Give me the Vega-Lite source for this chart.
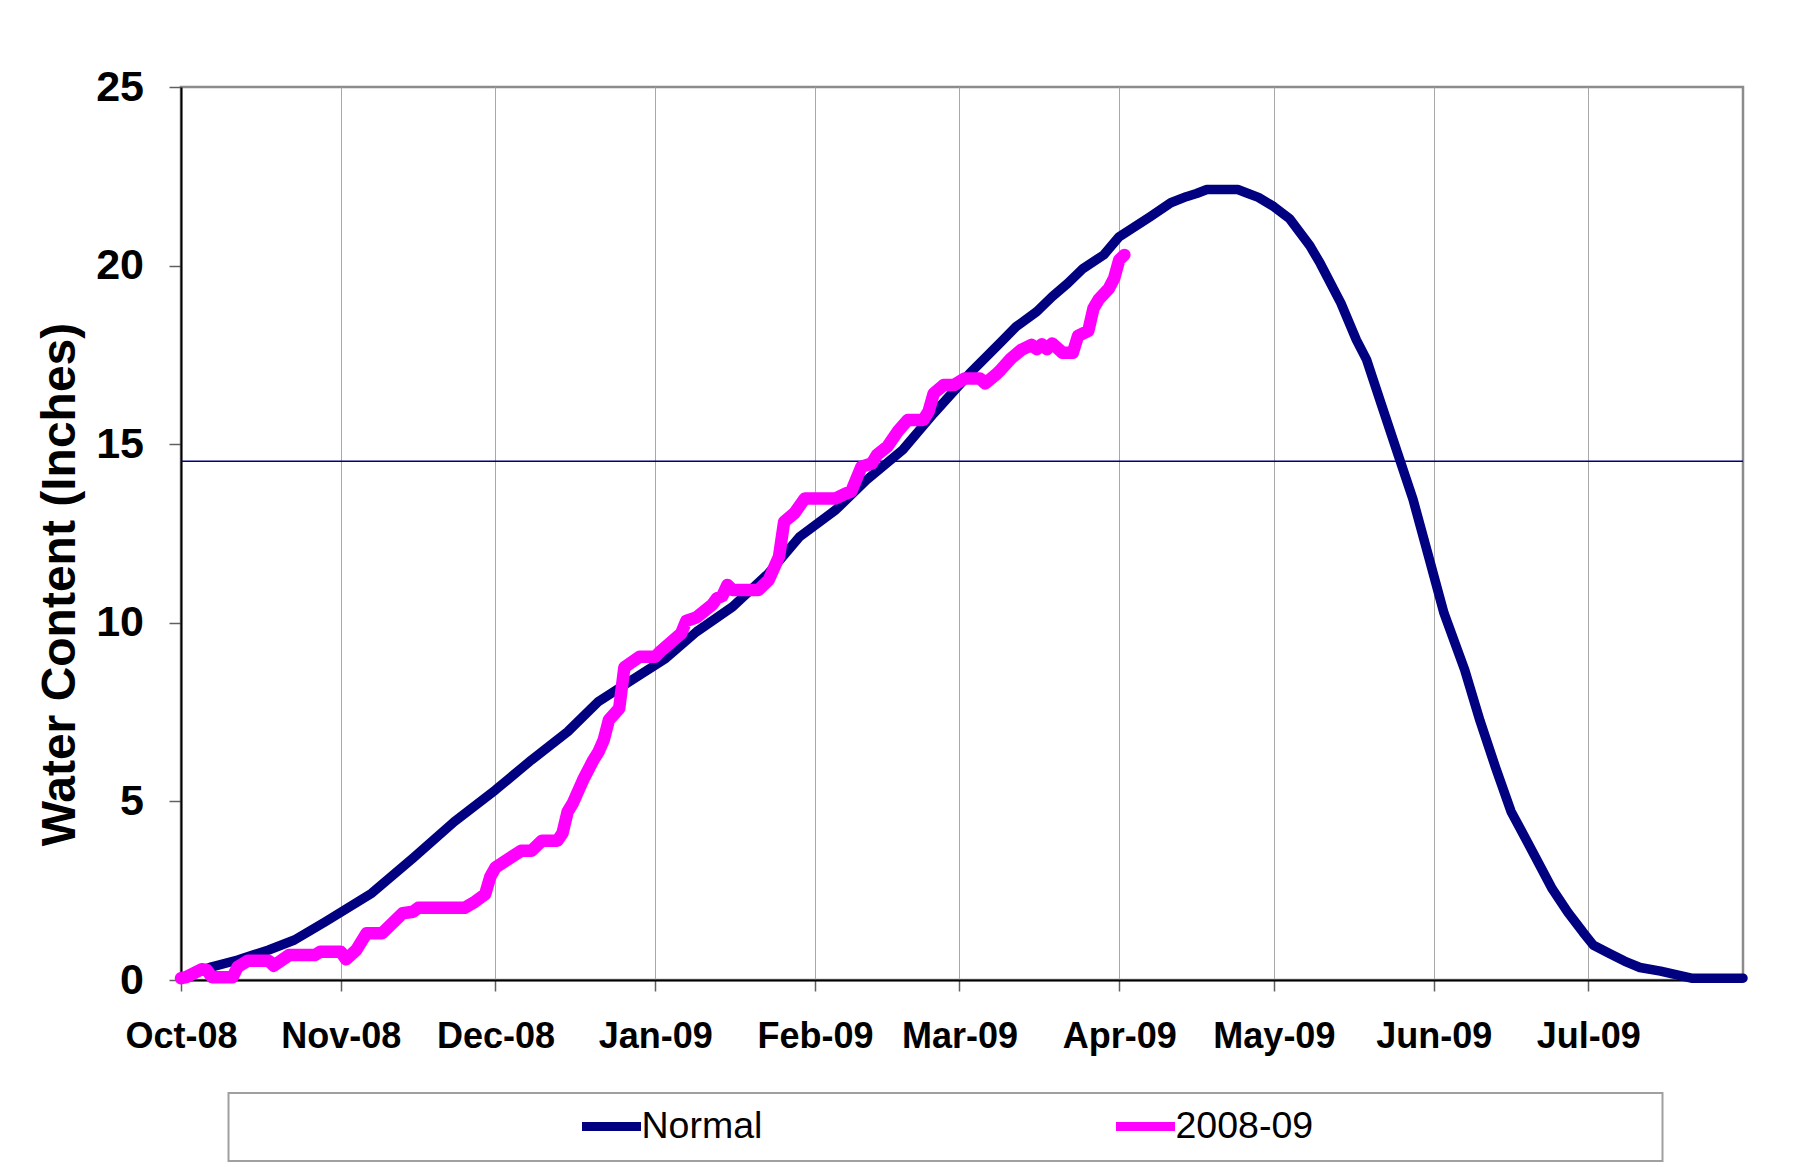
{
  "$schema": "https://vega.github.io/schema/vega-lite/v6.json",
  "width": 1562,
  "height": 893,
  "autosize": {"type": "none"},
  "padding": {"left": 181, "top": 87, "right": 75, "bottom": 187},
  "background": "white",
  "config": {
    "font": "Liberation Sans",
    "view": {"stroke": "#8c8c8c", "strokeWidth": 2.5},
    "legend": {"strokeWidth": 2},
    "axis": {
      "labelColor": "black",
      "titleColor": "black",
      "domainColor": "black",
      "domainWidth": 2,
      "tickColor": "#606060",
      "tickWidth": 1.5,
      "gridColor": "#a8a8a8",
      "gridWidth": 1,
      "labelFontWeight": "bold"
    }
  },
  "datasets": {
    "snow": [
      {"date": "2008-10-01", "series": "Normal", "value": 0.05},
      {"date": "2008-10-07", "series": "Normal", "value": 0.37},
      {"date": "2008-10-12", "series": "Normal", "value": 0.56},
      {"date": "2008-10-18", "series": "Normal", "value": 0.84},
      {"date": "2008-10-23", "series": "Normal", "value": 1.12},
      {"date": "2008-10-29", "series": "Normal", "value": 1.63},
      {"date": "2008-11-07", "series": "Normal", "value": 2.43},
      {"date": "2008-11-15", "series": "Normal", "value": 3.41},
      {"date": "2008-11-23", "series": "Normal", "value": 4.43},
      {"date": "2008-12-01", "series": "Normal", "value": 5.32},
      {"date": "2008-12-08", "series": "Normal", "value": 6.16},
      {"date": "2008-12-15", "series": "Normal", "value": 6.95},
      {"date": "2008-12-21", "series": "Normal", "value": 7.8},
      {"date": "2008-12-28", "series": "Normal", "value": 8.45},
      {"date": "2009-01-03", "series": "Normal", "value": 9.0},
      {"date": "2009-01-09", "series": "Normal", "value": 9.75},
      {"date": "2009-01-16", "series": "Normal", "value": 10.45},
      {"date": "2009-01-23", "series": "Normal", "value": 11.39},
      {"date": "2009-01-29", "series": "Normal", "value": 12.41},
      {"date": "2009-02-05", "series": "Normal", "value": 13.16},
      {"date": "2009-02-11", "series": "Normal", "value": 14.0},
      {"date": "2009-02-18", "series": "Normal", "value": 14.84},
      {"date": "2009-02-24", "series": "Normal", "value": 15.86},
      {"date": "2009-03-03", "series": "Normal", "value": 16.98},
      {"date": "2009-03-09", "series": "Normal", "value": 17.85},
      {"date": "2009-03-12", "series": "Normal", "value": 18.29},
      {"date": "2009-03-16", "series": "Normal", "value": 18.71},
      {"date": "2009-03-19", "series": "Normal", "value": 19.13},
      {"date": "2009-03-22", "series": "Normal", "value": 19.5},
      {"date": "2009-03-25", "series": "Normal", "value": 19.92},
      {"date": "2009-03-29", "series": "Normal", "value": 20.3},
      {"date": "2009-04-01", "series": "Normal", "value": 20.81},
      {"date": "2009-04-04", "series": "Normal", "value": 21.09},
      {"date": "2009-04-07", "series": "Normal", "value": 21.37},
      {"date": "2009-04-11", "series": "Normal", "value": 21.76},
      {"date": "2009-04-14", "series": "Normal", "value": 21.93},
      {"date": "2009-04-16", "series": "Normal", "value": 22.02},
      {"date": "2009-04-18", "series": "Normal", "value": 22.13},
      {"date": "2009-04-24", "series": "Normal", "value": 22.13},
      {"date": "2009-04-26", "series": "Normal", "value": 22.02},
      {"date": "2009-04-28", "series": "Normal", "value": 21.91},
      {"date": "2009-05-01", "series": "Normal", "value": 21.65},
      {"date": "2009-05-04", "series": "Normal", "value": 21.32},
      {"date": "2009-05-08", "series": "Normal", "value": 20.55},
      {"date": "2009-05-10", "series": "Normal", "value": 20.06},
      {"date": "2009-05-14", "series": "Normal", "value": 18.95},
      {"date": "2009-05-17", "series": "Normal", "value": 17.92},
      {"date": "2009-05-19", "series": "Normal", "value": 17.36},
      {"date": "2009-05-22", "series": "Normal", "value": 16.05},
      {"date": "2009-05-25", "series": "Normal", "value": 14.75},
      {"date": "2009-05-28", "series": "Normal", "value": 13.45},
      {"date": "2009-05-31", "series": "Normal", "value": 11.86},
      {"date": "2009-06-03", "series": "Normal", "value": 10.27},
      {"date": "2009-06-07", "series": "Normal", "value": 8.69},
      {"date": "2009-06-10", "series": "Normal", "value": 7.25},
      {"date": "2009-06-13", "series": "Normal", "value": 5.95},
      {"date": "2009-06-16", "series": "Normal", "value": 4.72},
      {"date": "2009-06-20", "series": "Normal", "value": 3.64},
      {"date": "2009-06-24", "series": "Normal", "value": 2.55},
      {"date": "2009-06-27", "series": "Normal", "value": 1.9},
      {"date": "2009-06-30", "series": "Normal", "value": 1.33},
      {"date": "2009-07-02", "series": "Normal", "value": 0.97},
      {"date": "2009-07-05", "series": "Normal", "value": 0.75},
      {"date": "2009-07-08", "series": "Normal", "value": 0.53},
      {"date": "2009-07-11", "series": "Normal", "value": 0.35},
      {"date": "2009-07-15", "series": "Normal", "value": 0.25},
      {"date": "2009-07-18", "series": "Normal", "value": 0.15},
      {"date": "2009-07-21", "series": "Normal", "value": 0.05},
      {"date": "2009-07-31", "series": "Normal", "value": 0.05},
      {"date": "2008-10-01", "series": "2008-09", "value": 0.05},
      {"date": "2008-10-02", "series": "2008-09", "value": 0.08},
      {"date": "2008-10-05", "series": "2008-09", "value": 0.3},
      {"date": "2008-10-06", "series": "2008-09", "value": 0.28},
      {"date": "2008-10-07", "series": "2008-09", "value": 0.08},
      {"date": "2008-10-11", "series": "2008-09", "value": 0.08},
      {"date": "2008-10-12", "series": "2008-09", "value": 0.37},
      {"date": "2008-10-14", "series": "2008-09", "value": 0.54},
      {"date": "2008-10-18", "series": "2008-09", "value": 0.54},
      {"date": "2008-10-19", "series": "2008-09", "value": 0.4},
      {"date": "2008-10-22", "series": "2008-09", "value": 0.7},
      {"date": "2008-10-27", "series": "2008-09", "value": 0.7},
      {"date": "2008-10-28", "series": "2008-09", "value": 0.79},
      {"date": "2008-11-01", "series": "2008-09", "value": 0.79},
      {"date": "2008-11-02", "series": "2008-09", "value": 0.58},
      {"date": "2008-11-04", "series": "2008-09", "value": 0.84},
      {"date": "2008-11-06", "series": "2008-09", "value": 1.31},
      {"date": "2008-11-09", "series": "2008-09", "value": 1.31},
      {"date": "2008-11-11", "series": "2008-09", "value": 1.59},
      {"date": "2008-11-13", "series": "2008-09", "value": 1.87},
      {"date": "2008-11-15", "series": "2008-09", "value": 1.91},
      {"date": "2008-11-16", "series": "2008-09", "value": 2.02},
      {"date": "2008-11-25", "series": "2008-09", "value": 2.02},
      {"date": "2008-11-27", "series": "2008-09", "value": 2.19},
      {"date": "2008-11-29", "series": "2008-09", "value": 2.4},
      {"date": "2008-11-30", "series": "2008-09", "value": 2.89},
      {"date": "2008-12-01", "series": "2008-09", "value": 3.15},
      {"date": "2008-12-06", "series": "2008-09", "value": 3.62},
      {"date": "2008-12-08", "series": "2008-09", "value": 3.62},
      {"date": "2008-12-10", "series": "2008-09", "value": 3.9},
      {"date": "2008-12-13", "series": "2008-09", "value": 3.9},
      {"date": "2008-12-14", "series": "2008-09", "value": 4.11},
      {"date": "2008-12-15", "series": "2008-09", "value": 4.71},
      {"date": "2008-12-16", "series": "2008-09", "value": 4.95},
      {"date": "2008-12-18", "series": "2008-09", "value": 5.6},
      {"date": "2008-12-20", "series": "2008-09", "value": 6.16},
      {"date": "2008-12-21", "series": "2008-09", "value": 6.39},
      {"date": "2008-12-22", "series": "2008-09", "value": 6.72},
      {"date": "2008-12-23", "series": "2008-09", "value": 7.28},
      {"date": "2008-12-25", "series": "2008-09", "value": 7.6},
      {"date": "2008-12-26", "series": "2008-09", "value": 8.75},
      {"date": "2008-12-29", "series": "2008-09", "value": 9.05},
      {"date": "2009-01-01", "series": "2008-09", "value": 9.05},
      {"date": "2009-01-02", "series": "2008-09", "value": 9.2},
      {"date": "2009-01-04", "series": "2008-09", "value": 9.45},
      {"date": "2009-01-06", "series": "2008-09", "value": 9.7},
      {"date": "2009-01-07", "series": "2008-09", "value": 10.05},
      {"date": "2009-01-09", "series": "2008-09", "value": 10.15},
      {"date": "2009-01-12", "series": "2008-09", "value": 10.5},
      {"date": "2009-01-13", "series": "2008-09", "value": 10.69},
      {"date": "2009-01-14", "series": "2008-09", "value": 10.75},
      {"date": "2009-01-15", "series": "2008-09", "value": 11.06},
      {"date": "2009-01-16", "series": "2008-09", "value": 10.92},
      {"date": "2009-01-21", "series": "2008-09", "value": 10.92},
      {"date": "2009-01-23", "series": "2008-09", "value": 11.2},
      {"date": "2009-01-25", "series": "2008-09", "value": 11.85},
      {"date": "2009-01-26", "series": "2008-09", "value": 12.83},
      {"date": "2009-01-28", "series": "2008-09", "value": 13.07},
      {"date": "2009-01-30", "series": "2008-09", "value": 13.48},
      {"date": "2009-02-05", "series": "2008-09", "value": 13.48},
      {"date": "2009-02-07", "series": "2008-09", "value": 13.62},
      {"date": "2009-02-08", "series": "2008-09", "value": 13.67},
      {"date": "2009-02-10", "series": "2008-09", "value": 14.37},
      {"date": "2009-02-12", "series": "2008-09", "value": 14.46},
      {"date": "2009-02-13", "series": "2008-09", "value": 14.7},
      {"date": "2009-02-15", "series": "2008-09", "value": 14.93},
      {"date": "2009-02-17", "series": "2008-09", "value": 15.35},
      {"date": "2009-02-19", "series": "2008-09", "value": 15.68},
      {"date": "2009-02-22", "series": "2008-09", "value": 15.68},
      {"date": "2009-02-23", "series": "2008-09", "value": 15.91},
      {"date": "2009-02-24", "series": "2008-09", "value": 16.42},
      {"date": "2009-02-26", "series": "2008-09", "value": 16.66},
      {"date": "2009-02-28", "series": "2008-09", "value": 16.66},
      {"date": "2009-03-02", "series": "2008-09", "value": 16.84},
      {"date": "2009-03-05", "series": "2008-09", "value": 16.84},
      {"date": "2009-03-06", "series": "2008-09", "value": 16.7},
      {"date": "2009-03-08", "series": "2008-09", "value": 16.94},
      {"date": "2009-03-09", "series": "2008-09", "value": 17.08},
      {"date": "2009-03-11", "series": "2008-09", "value": 17.4},
      {"date": "2009-03-13", "series": "2008-09", "value": 17.64},
      {"date": "2009-03-15", "series": "2008-09", "value": 17.78},
      {"date": "2009-03-16", "series": "2008-09", "value": 17.66},
      {"date": "2009-03-17", "series": "2008-09", "value": 17.8},
      {"date": "2009-03-18", "series": "2008-09", "value": 17.66},
      {"date": "2009-03-19", "series": "2008-09", "value": 17.82},
      {"date": "2009-03-21", "series": "2008-09", "value": 17.56},
      {"date": "2009-03-23", "series": "2008-09", "value": 17.56},
      {"date": "2009-03-24", "series": "2008-09", "value": 18.03},
      {"date": "2009-03-26", "series": "2008-09", "value": 18.17},
      {"date": "2009-03-27", "series": "2008-09", "value": 18.8},
      {"date": "2009-03-28", "series": "2008-09", "value": 19.05},
      {"date": "2009-03-30", "series": "2008-09", "value": 19.36},
      {"date": "2009-03-31", "series": "2008-09", "value": 19.64},
      {"date": "2009-04-01", "series": "2008-09", "value": 20.16},
      {"date": "2009-04-02", "series": "2008-09", "value": 20.3}
    ],
    "marker": [{"label": "slide line"}]
  },
  "layer": [
    {
      "data": {"name": "marker"},
      "mark": {"type": "rule", "color": "#000080", "strokeWidth": 1.5},
      "encoding": {"y": {"datum": 14.52}}
    },
    {
      "data": {"name": "snow"},
      "transform": [{"filter": "datum.series == 'Normal'"}],
      "mark": {"type": "line", "strokeWidth": 9.5, "strokeJoin": "round", "strokeCap": "round"},
      "encoding": {
        "x": {
          "field": "date",
          "type": "temporal",
          "scale": {"type": "utc", "domain": [{"year": 2008, "month": 10, "date": 1, "utc": true}, {"year": 2009, "month": 7, "date": 31, "utc": true}]},
          "axis": {
            "title": null,
            "values": [
              {"year": 2008, "month": 10, "date": 1, "utc": true},
              {"year": 2008, "month": 11, "date": 1, "utc": true},
              {"year": 2008, "month": 12, "date": 1, "utc": true},
              {"year": 2009, "month": 1, "date": 1, "utc": true},
              {"year": 2009, "month": 2, "date": 1, "utc": true},
              {"year": 2009, "month": 3, "date": 1, "utc": true},
              {"year": 2009, "month": 4, "date": 1, "utc": true},
              {"year": 2009, "month": 5, "date": 1, "utc": true},
              {"year": 2009, "month": 6, "date": 1, "utc": true},
              {"year": 2009, "month": 7, "date": 1, "utc": true}
            ],
            "format": "%b-%y",
            "labelFontSize": 36,
            "labelFlush": false,
            "labelOverlap": false,
            "tickSize": 11,
            "labelPadding": 28
          }
        },
        "y": {
          "field": "value",
          "type": "quantitative",
          "scale": {"domain": [0, 25], "nice": false},
          "axis": {
            "values": [0, 5, 10, 15, 20, 25],
            "title": "Water Content (Inches)",
            "titleFontSize": 48,
            "titleFontWeight": "bold",
            "titleAngle": 270,
            "titleAlign": "center",
            "titleBaseline": "alphabetic",
            "titleX": -107,
            "titleY": 497,
            "labelFontSize": 43,
            "tickSize": 12,
            "labelPadding": 25.5
          }
        },
        "color": {
          "field": "series",
          "type": "nominal",
          "scale": {"domain": ["Normal", "2008-09"], "range": ["#000080", "#FF00FF"]},
          "legend": {
            "orient": "none",
            "legendX": 47.5,
            "legendY": 1006,
            "direction": "horizontal",
            "columns": 2,
            "columnPadding": 349,
            "gridAlign": "each",
            "clipHeight": 37,
            "symbolType": "stroke",
            "symbolSize": 3481,
            "symbolStrokeWidth": 9,
            "labelOffset": -4,
            "labelFontSize": 37.5,
            "labelFontWeight": "normal",
            "labelColor": "black",
            "labelLimit": 2000,
            "labelExpr": "datum.label == '2008-09' ? datum.label + '\u00a0\u00a0\u00a0\u00a0\u00a0\u00a0\u00a0\u00a0\u00a0\u00a0\u00a0\u00a0\u00a0\u00a0\u00a0\u00a0\u00a0\u00a0\u00a0\u00a0\u00a0\u00a0\u00a0\u00a0\u00a0\u00a0\u00a0\u00a0\u00a0\u00a0\u00a0\u00a0\u200b' : datum.label",
            "title": "\u200b\u00a0\u00a0\u00a0\u00a0\u00a0\u00a0\u00a0\u00a0\u00a0\u00a0\u00a0\u00a0\u00a0\u00a0\u00a0\u00a0\u00a0\u00a0\u00a0\u00a0\u00a0\u00a0\u00a0\u00a0\u00a0\u00a0\u00a0\u00a0\u00a0\u00a0\u00a0\u00a0\u00a0\u00a0\u200b",
            "titleOrient": "left",
            "titleFontSize": 35.3,
            "titleFontWeight": "normal",
            "titlePadding": 0,
            "titleLimit": 2000,
            "padding": 15,
            "strokeColor": "#a0a0a0"
          }
        }
      }
    },
    {
      "data": {"name": "snow"},
      "transform": [{"filter": "datum.series == '2008-09'"}],
      "mark": {"type": "line", "strokeWidth": 12.5, "strokeJoin": "round", "strokeCap": "round"},
      "encoding": {
        "x": {"field": "date", "type": "temporal"},
        "y": {"field": "value", "type": "quantitative"},
        "color": {"field": "series", "type": "nominal"}
      }
    }
  ]
}
